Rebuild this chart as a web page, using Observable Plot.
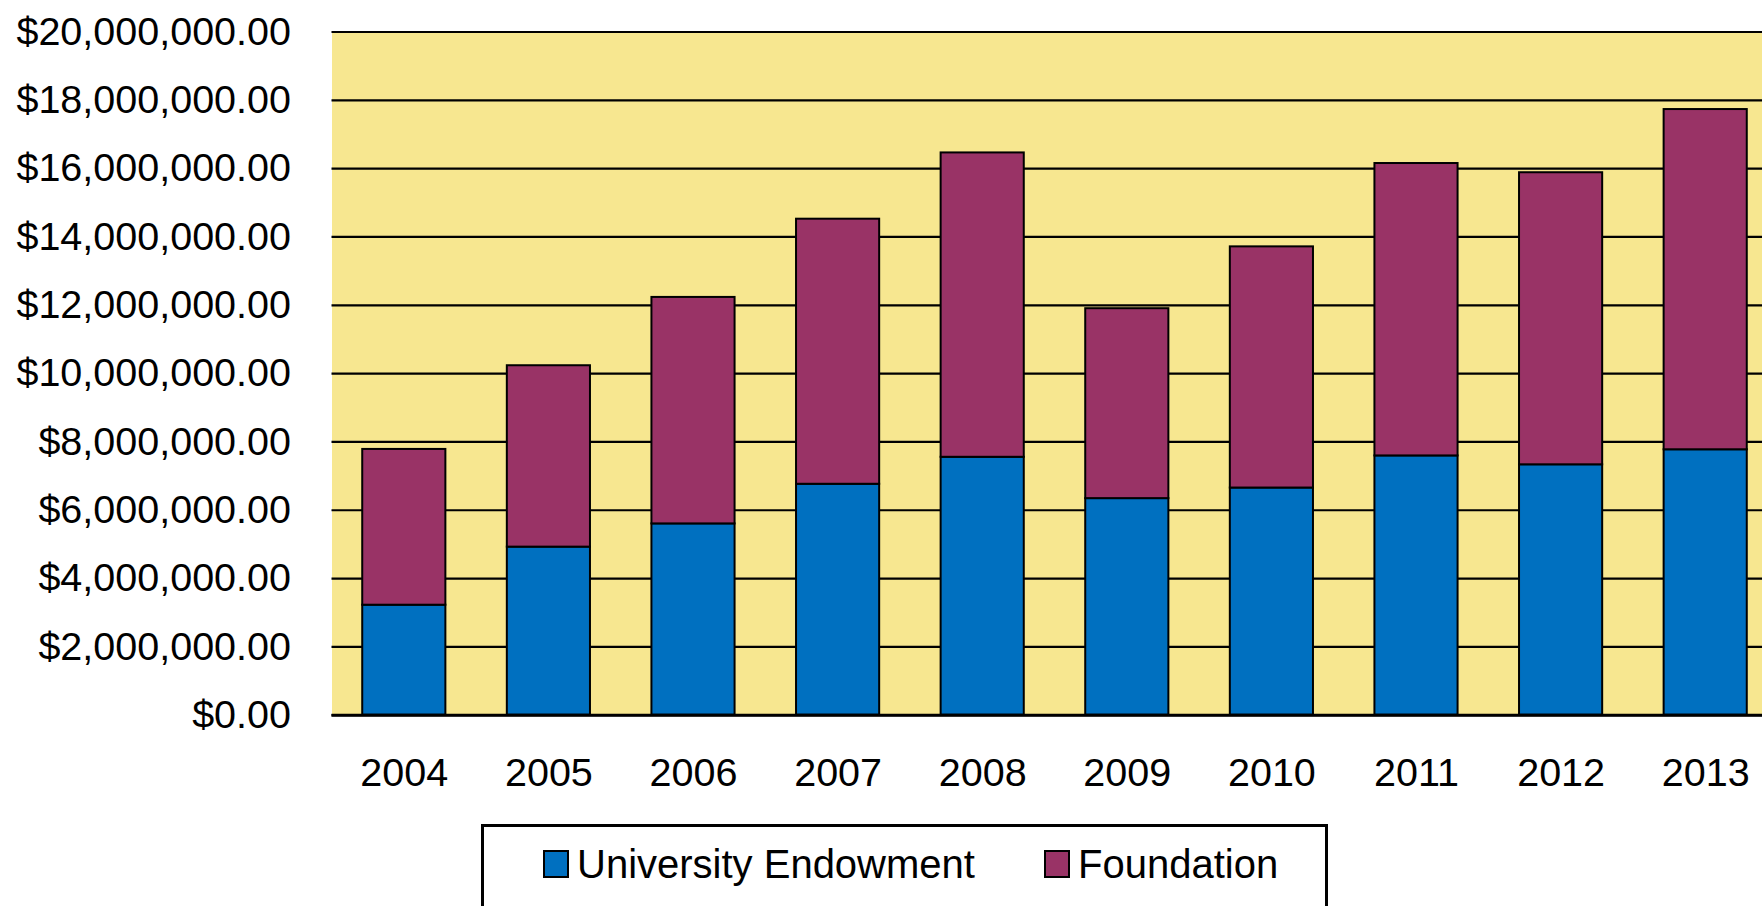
<!DOCTYPE html>
<html>
<head>
<meta charset="utf-8">
<script src="https://cdn.jsdelivr.net/npm/d3@7"></script>
<script src="https://cdn.jsdelivr.net/npm/@observablehq/plot@0.6"></script>
<style>
  html, body { margin: 0; padding: 0; background: #fff; overflow: hidden; }
  body { width: 1762px; height: 906px; position: relative; font-family: "Liberation Sans", Arial, sans-serif; }
  #legend {
    position: absolute; left: 481px; top: 824px; width: 847px; height: 90px;
    border: 3px solid #000; box-sizing: border-box; background: #fff;
    font-size: 40px; color: #000;
  }
  .item { position: absolute; top: 15px; display: flex; align-items: center; height: 44px; }
  .sw { width: 22px; height: 24px; border: 2.5px solid #000; margin-right: 8px; }
</style>
</head>
<body>
<div id="chart"></div>
<div id="legend">
  <div class="item" style="left:59px"><div class="sw" style="background:#0070C0"></div><span>University Endowment</span></div>
  <div class="item" style="left:560px"><div class="sw" style="background:#993366"></div><span>Foundation</span></div>
</div>
<script>
const years = ["2004","2005","2006","2007","2008","2009","2010","2011","2012","2013"];
const endowment = [3220000, 4920000, 5600000, 6760000, 7550000, 6340000, 6650000, 7590000, 7330000, 7770000];
const totals = [7780000, 10230000, 12230000, 14520000, 16460000, 11900000, 13710000, 16150000, 15880000, 17730000];
const seriesNames = ["University Endowment", "Foundation"];
const seriesColors = ["#0070C0", "#993366"];
const yTicks = [0, 2000000, 4000000, 6000000, 8000000, 10000000, 12000000, 14000000, 16000000, 18000000, 20000000];

const foundation = totals.map((t, i) => t - endowment[i]);
const data = [];
years.forEach((y, i) => {
  data.push({year: y, series: seriesNames[0], value: endowment[i]});
  data.push({year: y, series: seriesNames[1], value: foundation[i]});
});

const fmt = d3.format("$,.2f");
const H = 824;

const chart = Plot.plot({
  width: 1762,
  height: H,
  marginLeft: 331.5,
  marginRight: -15.5,
  marginTop: 31.5,
  marginBottom: H - 714.7,
  style: {fontFamily: "'Liberation Sans', Arial, sans-serif", fontSize: "39.5px", color: "#000", background: "transparent", overflow: "visible"},
  x: {domain: years, paddingInner: 0.425, paddingOuter: 0.2125, round: false, label: null},
  y: {domain: [0, 20000000], label: null},
  color: {domain: seriesNames, range: seriesColors},
  marks: [
    Plot.frame({fill: "#F7E790", stroke: null}),
    Plot.ruleY(yTicks, {stroke: "#000", strokeWidth: 2.2}),
    Plot.barY(data, {x: "year", y: "value", fill: "series", stroke: "#000", strokeWidth: 2, order: seriesNames}),
    Plot.ruleY([0], {stroke: "#000", strokeWidth: 3}),
    Plot.axisY({ticks: yTicks, tickFormat: fmt, tickSize: 0, tickPadding: 41, label: null, fontSize: 39.5}),
    Plot.axisX({tickSize: 0, tickPadding: 43, label: null, fontSize: 39.5})
  ]
});
document.getElementById("chart").appendChild(chart);
</script>
</body>
</html>
